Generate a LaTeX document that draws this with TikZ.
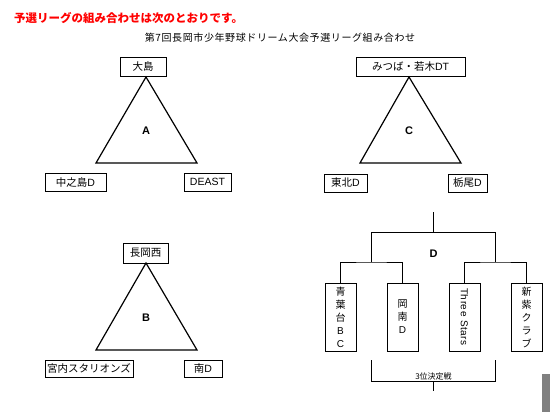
\documentclass[tikz,border=0pt]{standalone}
\usepackage{fontspec}
\setmainfont{Liberation Sans}
\newfontfamily\cjk{Noto Sans CJK JP}
\begin{document}
\begin{tikzpicture}[x=1pt,y=-1pt,
  team/.style={draw, line width=0.8pt, inner sep=0pt, font=\fontsize{10.5}{12}\selectfont, align=center},
  vteam/.style={team, minimum width=31pt, minimum height=68pt, font=\cjk\fontsize{10}{13}\selectfont},
  tri/.style={line width=1.2pt, line join=miter},
  glabel/.style={font=\bfseries\fontsize{11}{13}\selectfont},
  brk/.style={line width=0.8pt}]
\useasboundingbox (0,0) rectangle (550,412);
% titles
\node[anchor=west, text=red, inner sep=0pt, font=\cjk\bfseries\fontsize{11.5}{13}\selectfont] (title) at (14,18) {予選リーグの組み合わせは次のとおりです。};
\node[inner sep=0pt, font=\cjk\fontsize{10}{12}\selectfont\addfontfeature{LetterSpace=6}] (sub) at (280,38) {第7回長岡市少年野球ドリーム大会予選リーグ組み合わせ};
% group A
\node[team, minimum width=46pt, minimum height=19pt] (a1) at (143,66.5) {\cjk 大島};
\node[team, minimum width=61pt, minimum height=18pt] (a2) at (75.5,182) {{\cjk 中之島}D};
\node[team, minimum width=47pt, minimum height=18pt] (a3) at (207.5,182) {DEAST};
\coordinate (ta1) at (146,77);
\coordinate (ta2) at (96,163);
\coordinate (ta3) at (197,163);
\draw[tri] (ta1) -- (ta2) -- (ta3) -- cycle;
\node[glabel] (la) at (146,131) {A};
% group C
\node[team, minimum width=109pt, minimum height=19pt] (c1) at (410.5,66.5) {{\cjk みつば・若木}DT};
\node[team, minimum width=43pt, minimum height=18pt] (c2) at (345.5,183) {{\cjk 東北}D};
\node[team, minimum width=39pt, minimum height=18pt] (c3) at (467.5,183) {{\cjk 栃尾}D};
\coordinate (tc1) at (409,77);
\coordinate (tc2) at (360,163);
\coordinate (tc3) at (461,163);
\draw[tri] (tc1) -- (tc2) -- (tc3) -- cycle;
\node[glabel] (lc) at (409,131) {C};
% group B
\node[team, minimum width=45pt, minimum height=20pt] (b1) at (145.5,253) {\cjk 長岡西};
\node[team, minimum width=88pt, minimum height=17pt] (b2) at (89,368.5) {\cjk 宮内スタリオンズ};
\node[team, minimum width=38pt, minimum height=17pt] (b3) at (203,368.5) {{\cjk 南}D};
\coordinate (tb1) at (146,263);
\coordinate (tb2) at (96,350);
\coordinate (tb3) at (197,350);
\draw[tri] (tb1) -- (tb2) -- (tb3) -- cycle;
\node[glabel] (lb) at (146,318) {B};
% group D
\node[vteam] (d1) at (340.5,317) {青\\葉\\台\\{\rmfamily B}\\{\rmfamily C}};
\node[vteam] (d2) at (402.5,317) {岡\\南\\{\rmfamily D}};
\node[vteam] (d3) at (464.5,317) {};
\node[rotate=-90, inner sep=0pt, font=\fontsize{10}{12}\selectfont\addfontfeature{LetterSpace=6}] (d3t) at (d3.center) {Three Stars};
\node[vteam] (d4) at (526.5,317) {新\\紫\\ク\\ラ\\ブ};
\coordinate (j1) at (371.5,262);
\coordinate (j2) at (495.5,262);
\coordinate (k1) at (371.5,232);
\coordinate (k2) at (495.5,232);
\coordinate (top) at (433.5,212);
\coordinate (ktop) at (433.5,232);
\draw[brk] (d1.north) |- (j1) -| (d2.north);
\draw[brk] (d3.north) |- (j2) -| (d4.north);
\draw[brk] (j1) -- (k1) -- (k2) -- (j2);
\draw[brk] (ktop) -- (top);
\node[glabel] (ld) at (433.5,254) {D};
% third place
\coordinate (p1) at (371.5,360);
\coordinate (p2) at (495.5,360);
\coordinate (q1) at (371.5,381);
\coordinate (q2) at (495.5,381);
\coordinate (qm) at (433.5,381);
\coordinate (qb) at (433.5,391);
\draw[brk] (p1) -- (q1) -- (q2) -- (p2);
\draw[brk] (qm) -- (qb);
\node[inner sep=0pt, font=\cjk\fontsize{8}{9}\selectfont] (third) at (433.5,376) {3位決定戦};
% gray bar
\fill[gray] (542,374) rectangle (550,412);
\end{tikzpicture}
\end{document}
